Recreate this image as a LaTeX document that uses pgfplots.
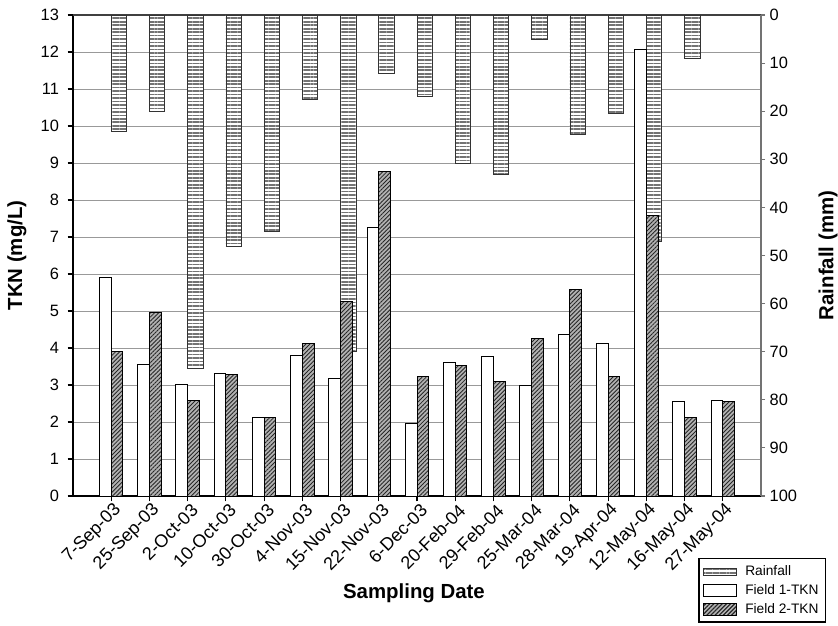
\documentclass[border=0pt]{standalone}
\usepackage{fontspec}
\setmainfont{Liberation Sans}
\usepackage{pgfplots}
\pgfplotsset{compat=1.18}
\usetikzlibrary{patterns.meta}

\tikzset{
 rainbar/.style={draw=black!80, line width=0.5pt, fill=white, postaction={pattern={Lines[angle=0,distance=2.6pt,line width=1.25pt]}, pattern color=black!55}},
 f1bar/.style={draw=black, line width=0.7pt, fill=white},
 f2bar/.style={draw=black, line width=0.7pt, fill=black!30, postaction={pattern={Lines[angle=45,distance=2.2pt,line width=0.65pt]}, pattern color=black!85}},
}
\pgfplotsset{common/.style={width=516pt,height=360.75pt,scale only axis,xmin=-1,xmax=17,
  /pgf/number format/assume math mode=true,
  tick label style={font=\fontsize{12.3}{14}\selectfont}}}

\begin{document}
\begin{tikzpicture}
\path[use as bounding box] (-54.75pt,-96.75pt) rectangle (573.75pt,372pt);
% grid / primary axis
\begin{axis}[common, ymin=0, ymax=13, ytick={0,...,13},
  xtick={0,...,16},
  xticklabels={7-Sep-03,25-Sep-03,2-Oct-03,10-Oct-03,30-Oct-03,4-Nov-03,15-Nov-03,22-Nov-03,6-Dec-03,20-Feb-04,29-Feb-04,25-Mar-04,28-Mar-04,19-Apr-04,12-May-04,16-May-04,27-May-04},
  axis lines=left, axis line style={-, black, line width=1pt},
  tick align=outside, tick style={black, line width=0.9pt}, major tick length=4pt,
  ymajorgrids, grid style={black!40, line width=0.7pt},
  xticklabel style={rotate=45, anchor=east, xshift=4pt, yshift=-7pt, font=\fontsize{13.5}{15}\selectfont},
  yticklabel style={xshift=-3pt},
  xlabel={Sampling Date}, ylabel={TKN (mg/L)},
  label style={font=\bfseries\fontsize{15.3}{18}\selectfont},
  xlabel style={at={(axis description cs:0.4956,-0.2017)}, anchor=center},
  ylabel style={at={(axis description cs:-0.0814,0.5)}, anchor=center, rotate=0},
]
\draw[black!75, line width=0.8pt] (rel axis cs:0,1) -- (rel axis cs:1,1);
\end{axis}
% rainfall axis
\begin{axis}[common, ymin=0, ymax=100, y dir=reverse,
  axis y line*=right, axis x line=none,
  ytick={0,10,...,100}, tick align=outside,
  ytick style={black!55, line width=0.8pt}, major tick length=3pt,
  axis line style={-, black!55, line width=0.9pt},
  ylabel={Rainfall (mm)},
  ylabel style={font=\bfseries\fontsize{15.3}{18}\selectfont, at={(axis description cs:1.0974,0.5)}, anchor=center},
]
\addplot[ybar, bar width=0.4, bar shift=0.2, rainbar] coordinates {
(0,24.1) (1,20.1) (2,73.4) (3,48.1) (4,44.9) (5,17.6) (6,70.0) (7,12.1) (8,17.0)
(9,30.8) (10,33.1) (11,5.05) (12,24.9) (13,20.4) (14,47.1) (15,9.0)};
\end{axis}
% TKN bars
\begin{axis}[common, ymin=0, ymax=13, hide axis,
  legend style={at={(axis description cs:0.909,-0.1295)}, anchor=north west,
    draw=black, line width=0.9pt, font=\fontsize{10.3}{12}\selectfont,
    cells={anchor=west}, row sep=1.2pt, inner xsep=3pt, inner ysep=3pt,
    /tikz/every odd column/.append style={column sep=4pt}},
]
\addlegendimage{legend image code/.code={\draw[rainbar] (0pt,-2.5pt) rectangle (25pt,2.5pt);}}
\addlegendentry{Rainfall}
\addplot[ybar, bar width=0.307, bar shift=-0.1535, f1bar,
  legend image code/.code={\draw[f1bar] (0pt,-4.5pt) rectangle (25pt,4.5pt);}] coordinates {
(0,5.91) (1,3.55) (2,3.01) (3,3.31) (4,2.12) (5,3.79) (6,3.19) (7,7.27) (8,1.96)
(9,3.60) (10,3.78) (11,2.99) (12,4.36) (13,4.12) (14,12.07) (15,2.56) (16,2.58)};
\addlegendentry{Field 1-TKN}
\addplot[ybar, bar width=0.307, bar shift=0.1535, f2bar,
  legend image code/.code={\draw[f2bar] (0pt,-4.5pt) rectangle (25pt,4.5pt);}] coordinates {
(0,3.90) (1,4.95) (2,2.58) (3,3.29) (4,2.13) (5,4.13) (6,5.26) (7,8.78) (8,3.22)
(9,3.54) (10,3.10) (11,4.27) (12,5.58) (13,3.23) (14,7.58) (15,2.12) (16,2.56)};
\addlegendentry{Field 2-TKN}
\end{axis}
\end{tikzpicture}
\end{document}
